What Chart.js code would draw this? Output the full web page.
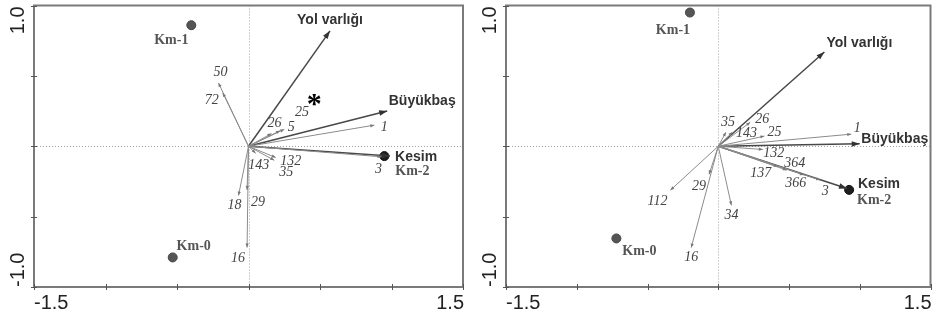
<!DOCTYPE html>
<html>
<head>
<meta charset="utf-8">
<script src="https://cdn.jsdelivr.net/npm/chart.js@4/dist/chart.umd.min.js"></script>
<style>
  html, body { margin: 0; padding: 0; background: #fff; }
  #marco { position: relative; width: 936px; height: 322px; }
  .panel { position: absolute; top: 0; height: 322px; }
</style>
</head>
<body>
<div id="marco">
  <div class="panel" style="left:0;width:470px"><canvas id="biplot-izq"></canvas></div>
  <div class="panel" style="left:470px;width:466px"><canvas id="biplot-der"></canvas></div>
</div>
<script>
// ---- Panel izquierdo ----
const sitiosIzq = ['Km-1', 'Km-0', 'Km-2'];
const sitiosIzqX = [-0.40, -0.53, 0.95];
const sitiosIzqY = [0.86, -0.79, -0.07];

const ambIzq = ['Yol varlığı', 'Büyükbaş', 'Kesim'];
const ambIzqX = [0.57, 0.97, 0.99];
const ambIzqY = [0.82, 0.25, -0.07];

const especiesIzq = ['50', '72', '26', '25', '5', '1', '143', '132', '35', '3', '18', '29', '16'];
const especiesIzqX = [-0.21, -0.18, 0.16, 0.22, 0.25, 0.88, 0.05, 0.19, 0.18, 0.93, -0.07, -0.01, -0.01];
const especiesIzqY = [0.45, 0.38, 0.09, 0.11, 0.12, 0.15, -0.05, -0.08, -0.10, -0.075, -0.35, -0.31, -0.72];

// ---- Panel derecho ----
const sitiosDer = ['Km-1', 'Km-0', 'Km-2'];
const sitiosDerX = [-0.20, -0.72, 0.925];
const sitiosDerY = [0.95, -0.655, -0.31];

const ambDer = ['Yol varlığı', 'Büyükbaş', 'Kesim'];
const ambDerX = [0.75, 1.0, 0.91];
const ambDerY = [0.67, 0.017, -0.30];

const especiesDer = ['35', '26', '143', '25', '1', '132', '137', '364', '366', '3', '112', '29', '34', '16'];
const especiesDerX = [0.054, 0.226, 0.10, 0.326, 0.94, 0.315, 0.42, 0.484, 0.605, 0.72, -0.338, -0.065, 0.093, -0.191];
const especiesDerY = [0.10, 0.17, 0.10, 0.072, 0.086, -0.023, -0.145, -0.17, -0.204, -0.24, -0.312, -0.20, -0.42, -0.72];

// ejes
const ticksX = [-1.5, -1.0, -0.5, 0, 0.5, 1.0, 1.5];
const ticksY = [-1.0, -0.5, 0, 0.5, 1.0];
const etiquetasX = ['-1.5', '1.5'];
const etiquetasY = ['-1.0', '1.0'];

// desplazamiento (px) de cada etiqueta respecto a su punta
const despIzq = {
  esp: {'50': [2, -11], '72': [-11, 8], '26': [3, -10], '25': [22, -18], '5': [7, -2], '1': [10, 2],
        '143': [3, 12], '132': [15, 4], '35': [12, 12], '3': [-3, 13], '18': [-4, 10], '29': [11, 12], '16': [-9, 11]},
  amb: {'Yol varlığı': [0, -11], 'Büyükbaş': [35, -10], 'Kesim': [26, 1]},
  sit: {'Km-1': [-20, 15], 'Km-0': [21, -11], 'Km-2': [28, 15]}
};
const despDer = {
  esp: {'35': [2, -10], '26': [12, -3], '143': [14, 1], '25': [10, -4], '1': [6, -6], '132': [11, 4],
        '137': [-17, 7], '364': [8, -7], '366': [-8, 8], '3': [5, 11], '112': [-13, 11], '29': [-10, 12],
        '34': [0, 10], '16': [0, 10]},
  amb: {'Yol varlığı': [35, -9], 'Büyükbaş': [35, -5], 'Kesim': [32, -4]},
  sit: {'Km-1': [-17, 18], 'Km-0': [23, 13], 'Km-2': [25, 11]}
};

function punta(ctx, x1, y1, x2, y2, largo, ancho) {
  const ang = Math.atan2(y2 - y1, x2 - x1);
  const c = Math.cos(ang), s = Math.sin(ang);
  ctx.beginPath();
  ctx.moveTo(x2, y2);
  ctx.lineTo(x2 - largo * c + ancho * s, y2 - largo * s - ancho * c);
  ctx.lineTo(x2 - largo * c - ancho * s, y2 - largo * s + ancho * c);
  ctx.closePath();
  ctx.fill();
}

function crearBiplot(id, padding, sitios, sx, sy, amb, ax, ay, esp, ex, ey, desp, asterisco) {
  const datasets = [];

  esp.forEach((n, i) => {
    datasets.push({
      label: n,
      data: [{x: 0, y: 0}, {x: ex[i], y: ey[i]}],
      showLine: true,
      borderColor: '#8c8c8c',
      borderWidth: 1,
      pointRadius: 0
    });
  });

  amb.forEach((n, i) => {
    datasets.push({
      label: n,
      data: [{x: 0, y: 0}, {x: ax[i], y: ay[i]}],
      showLine: true,
      borderColor: '#484848',
      borderWidth: 1.5,
      pointRadius: 0
    });
  });

  datasets.push({
    label: 'sitios',
    data: sitios.map((n, i) => ({x: sx[i], y: sy[i]})),
    pointRadius: 4.5,
    pointBackgroundColor: ['#555', '#555', '#1e1e1e'],
    pointBorderColor: ['#444', '#444', '#111'],
    pointBorderWidth: 1
  });

  const dibujo = {
    id: 'dibujo-' + id,
    beforeDatasetsDraw(chart) {
      const {ctx, chartArea: a, scales: {x, y}} = chart;
      const x0 = x.getPixelForValue(0), y0 = y.getPixelForValue(0);
      ctx.save();
      ctx.strokeStyle = '#a0a0a0';
      ctx.lineWidth = 1;
      ctx.setLineDash([1, 2]);
      ctx.beginPath();
      ctx.moveTo(a.left, Math.round(y0) + 0.5); ctx.lineTo(a.right, Math.round(y0) + 0.5);
      ctx.moveTo(Math.round(x0) + 0.5, a.top); ctx.lineTo(Math.round(x0) + 0.5, a.bottom);
      ctx.stroke();
      ctx.restore();
    },
    afterDatasetsDraw(chart) {
      const {ctx, chartArea: a, scales: {x, y}} = chart;
      const x0 = x.getPixelForValue(0), y0 = y.getPixelForValue(0);
      ctx.save();

      // puntas de flecha
      ctx.fillStyle = '#777';
      esp.forEach((n, i) => {
        punta(ctx, x0, y0, x.getPixelForValue(ex[i]), y.getPixelForValue(ey[i]), 4, 1.6);
      });
      ctx.fillStyle = '#333';
      amb.forEach((n, i) => {
        punta(ctx, x0, y0, x.getPixelForValue(ax[i]), y.getPixelForValue(ay[i]), 8, 2.8);
      });

      ctx.textAlign = 'center';
      ctx.textBaseline = 'middle';

      // especies
      ctx.font = 'italic 14px "Liberation Serif"';
      ctx.fillStyle = '#444';
      esp.forEach((n, i) => {
        const d = desp.esp[n] || [0, -8];
        ctx.fillText(n, x.getPixelForValue(ex[i]) + d[0], y.getPixelForValue(ey[i]) + d[1]);
      });

      // variables ambientales
      ctx.font = 'bold 14px "Liberation Sans"';
      ctx.fillStyle = '#333';
      amb.forEach((n, i) => {
        const d = desp.amb[n];
        ctx.fillText(n, x.getPixelForValue(ax[i]) + d[0], y.getPixelForValue(ay[i]) + d[1]);
      });

      // sitios
      ctx.font = 'bold 14px "Liberation Serif"';
      ctx.fillStyle = '#555';
      sitios.forEach((n, i) => {
        const d = desp.sit[n];
        ctx.fillText(n, x.getPixelForValue(sx[i]) + d[0], y.getPixelForValue(sy[i]) + d[1]);
      });

      if (asterisco) {
        ctx.font = 'bold 30px "Liberation Serif"';
        ctx.fillStyle = '#000';
        ctx.fillText('*', x.getPixelForValue(asterisco[0]), y.getPixelForValue(asterisco[1]) + 7);
      }

      // marco
      ctx.strokeStyle = '#7a7a7a';
      ctx.lineWidth = 2;
      ctx.strokeRect(a.left, a.top, a.right - a.left, a.bottom - a.top);

      // marcas de los ejes
      ctx.strokeStyle = '#555';
      ctx.lineWidth = 1;
      ctx.beginPath();
      ticksX.forEach(v => {
        const px = Math.round(x.getPixelForValue(v)) + 0.5;
        ctx.moveTo(px, a.bottom - 3); ctx.lineTo(px, a.bottom + 3);
      });
      ticksY.forEach(v => {
        const py = Math.round(y.getPixelForValue(v)) + 0.5;
        ctx.moveTo(a.left - 3, py); ctx.lineTo(a.left + 3, py);
      });
      ctx.stroke();

      // etiquetas de los ejes
      ctx.font = '20px "Liberation Sans"';
      ctx.fillStyle = '#222';
      ctx.textBaseline = 'middle';
      ctx.textAlign = 'left';
      ctx.fillText(etiquetasX[0], a.left, a.bottom + 16);
      ctx.textAlign = 'right';
      ctx.fillText(etiquetasX[1], a.right + 1, a.bottom + 16);

      ctx.save();
      ctx.translate(a.left - 16, a.bottom);
      ctx.rotate(-Math.PI / 2);
      ctx.textAlign = 'left';
      ctx.fillText(etiquetasY[0], 0, 0);
      ctx.restore();

      ctx.save();
      ctx.translate(a.left - 16, a.top);
      ctx.rotate(-Math.PI / 2);
      ctx.textAlign = 'right';
      ctx.fillText(etiquetasY[1], -1, 0);
      ctx.restore();

      ctx.restore();
    }
  };

  const ctx = document.getElementById(id).getContext('2d');
  return new Chart(ctx, {
    type: 'scatter',
    data: { datasets },
    options: {
      animation: false,
      responsive: true,
      maintainAspectRatio: false,
      layout: { padding },
      plugins: {
        legend: { display: false },
        tooltip: { enabled: false }
      },
      scales: {
        x: { type: 'linear', min: -1.5, max: 1.5, display: false },
        y: { type: 'linear', min: -1, max: 1, display: false }
      }
    },
    plugins: [dibujo]
  });
}

crearBiplot('biplot-izq', {left: 34, right: 7, top: 4, bottom: 35},
  sitiosIzq, sitiosIzqX, sitiosIzqY, ambIzq, ambIzqX, ambIzqY,
  especiesIzq, especiesIzqX, especiesIzqY, despIzq, [0.46, 0.34]);

crearBiplot('biplot-der', {left: 36, right: 2, top: 4, bottom: 35},
  sitiosDer, sitiosDerX, sitiosDerY, ambDer, ambDerX, ambDerY,
  especiesDer, especiesDerX, especiesDerY, despDer, null);
</script>
</body>
</html>
